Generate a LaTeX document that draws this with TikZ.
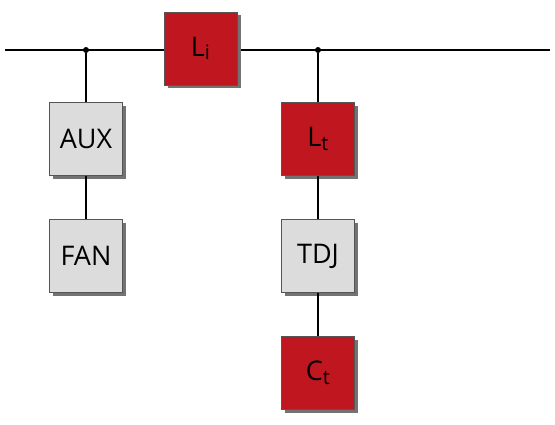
\documentclass[tikz,border=0pt]{standalone}
\usepackage{fontspec}
\setmainfont{Open Sans}
\usetikzlibrary{shadows}
\definecolor{boxred}{HTML}{C0161F}
\definecolor{boxgray}{HTML}{DCDCDC}
\definecolor{edgegray}{HTML}{555555}
\newcommand{\subtxt}[1]{{\fontsize{20}{20}\selectfont\raisebox{-3.5pt}{#1}}}
\begin{document}
\begin{tikzpicture}[x=1pt,y=-1pt,
  blk/.style={draw=edgegray, line width=0.9pt, minimum width=73pt, minimum height=73pt,
    inner sep=0pt, font=\fontsize{27}{27}\selectfont,
    drop shadow={shadow xshift=3.5pt, shadow yshift=-3.5pt, fill=black!55, opacity=1}},
  redblk/.style={blk, fill=boxred},
  grayblk/.style={blk, fill=boxgray},
  wire/.style={line width=1.7pt, black},
  dot/.style={circle, fill=black, inner sep=0pt, minimum size=6pt}]
\useasboundingbox (0,0) rectangle (555,425);
\coordinate (w) at (5,50);
\coordinate (e) at (550,50);
\node[dot] (j1) at (86,50) {};
\node[dot] (j2) at (318,50) {};
\draw[wire] (w) -- (e);
\node[redblk] (li) at (200.5,48.5) {L\subtxt{i}};
\node[grayblk] (aux) at (86,139) {AUX};
\node[grayblk] (fan) at (86,256) {FAN};
\node[redblk] (lt) at (318,139) {L\subtxt{t}};
\node[grayblk] (tdj) at (318,256) {TDJ};
\node[redblk] (ct) at (318,373) {C\subtxt{t}};
\draw[wire] (j1) -- (aux);
\draw[wire] (aux) -- (fan);
\draw[wire] (j2) -- (lt);
\draw[wire] (lt) -- (tdj);
\draw[wire] (tdj) -- (ct);
\end{tikzpicture}
\end{document}
